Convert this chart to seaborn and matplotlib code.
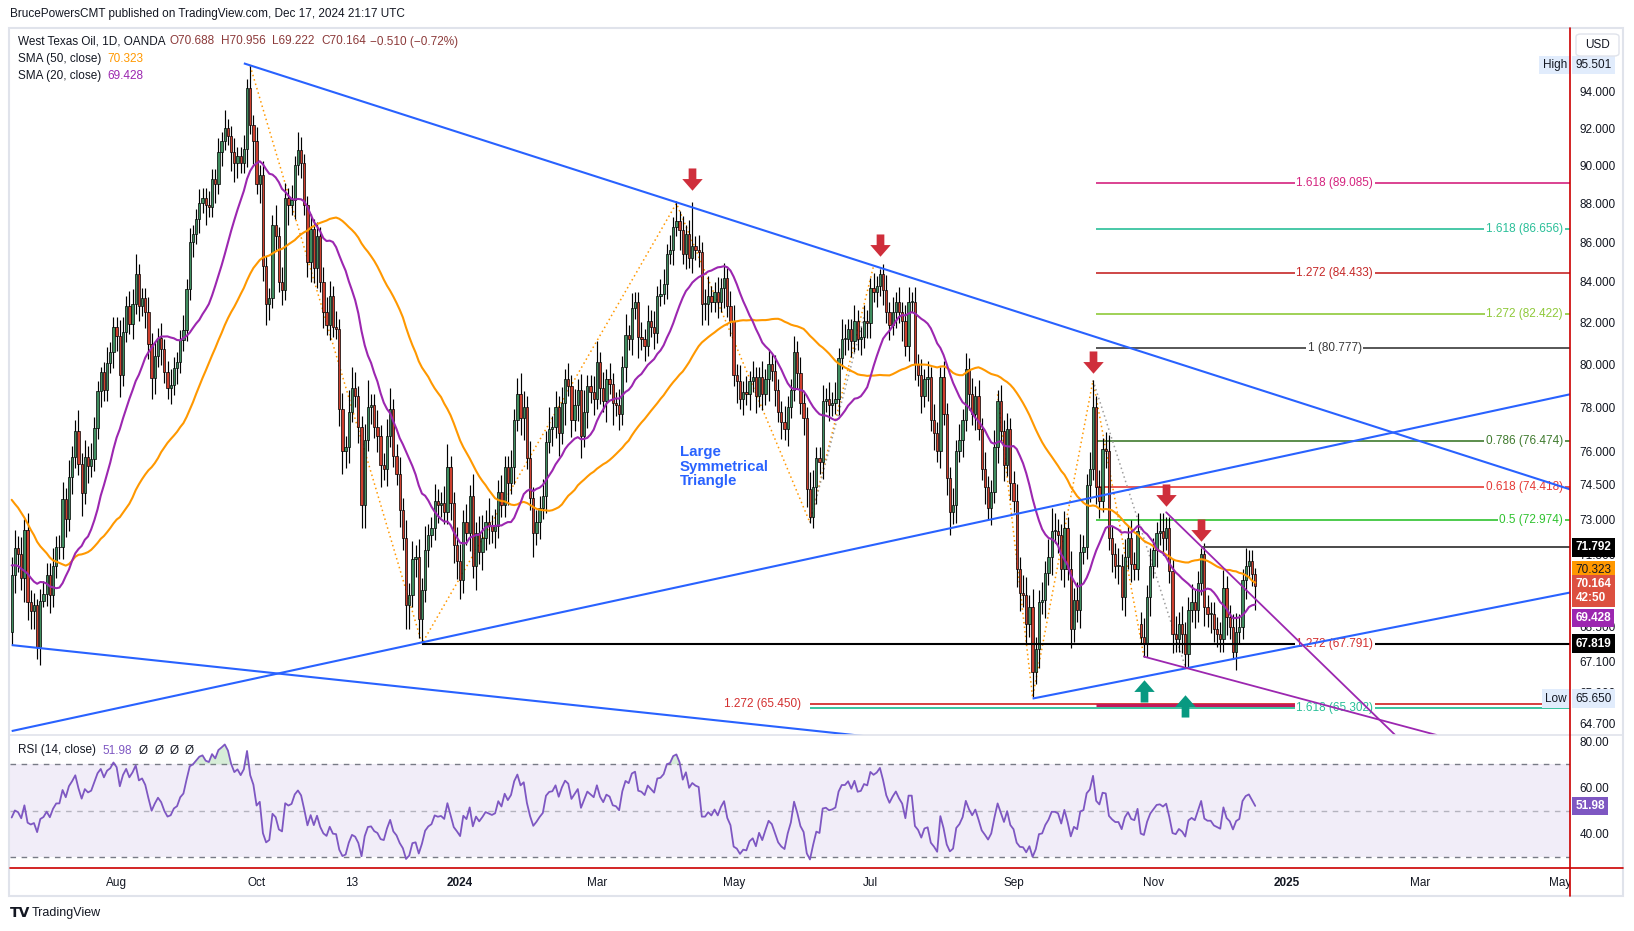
import numpy as np
import pandas as pd
import matplotlib
matplotlib.use("Agg")
import matplotlib.pyplot as plt
import seaborn as sns
from matplotlib.path import Path
from matplotlib.lines import Line2D
from matplotlib.patches import Rectangle, FancyBboxPatch
from matplotlib.transforms import blended_transform_factory, offset_copy
from matplotlib.ticker import NullLocator

sns.set_theme(style="white")
plt.rcParams["font.family"] = ["Liberation Sans", "DejaVu Sans"]

# ------------------------------------------------------------------ data
# closes before the first visible bar (only used to warm up SMA / RSI)
hist_closes = [80.70, 79.74, 81.53, 83.26, 82.16, 82.52, 80.83, 81.86, 79.16, 77.37, 77.87, 78.76,
               77.07, 74.30, 74.76, 76.78,
               75.66, 71.66, 68.60, 68.56, 71.34, 73.16, 73.71, 72.56, 70.87, 70.04, 71.11, 70.86,
               72.83, 71.86, 71.69, 71.99, 72.91, 74.34, 71.83, 72.67, 72.50, 69.46, 68.09,
               70.10, 71.74, 72.15, 71.74, 72.53, 71.29, 70.17, 67.12, 69.42, 68.27]

# daily closes of the visible bars, month by month
closes_2023_06 = [70.62, 71.78, 71.50, 70.50, 72.53, 69.51, 69.16, 69.37, 67.70, 69.56, 69.86, 70.64]
closes_2023_07 = [69.79, 71.00, 71.79, 71.80, 73.86, 72.99, 74.83, 75.75, 76.89, 75.42, 74.15, 75.75,
                  75.35, 75.63, 77.07, 78.74, 79.63, 78.78, 80.09, 80.58, 81.80]
closes_2023_08 = [81.37, 79.49, 81.55, 82.82, 81.94, 82.92, 84.40, 82.82, 83.19, 82.51, 80.99, 79.38,
                  80.39, 81.25, 80.72, 79.64, 78.89, 79.05, 79.83, 80.10, 81.16, 81.63, 83.63]
closes_2023_09 = [86.0, 86.4, 87.2, 88.0, 88.3, 87.9, 87.8, 89.3, 89.0, 90.7, 91.3, 92.0, 91.6, 90.7,
                  90.1, 90.5, 90.1, 90.9, 94.2, 92.2, 91.3]
closes_2023_10 = [89.0, 89.5, 84.8, 82.9, 83.2, 86.9, 86.3, 84.0, 83.6, 88.3, 87.9, 88.2, 90.0, 90.8,
                  90.1, 87.9, 85.0, 86.7, 84.7, 86.3, 84.0, 82.5]
closes_2023_11 = [81.9, 83.3, 81.8, 81.7, 77.9, 76.0, 76.2, 77.8, 78.9, 78.5, 77.1, 73.6, 76.5, 78.0,
                  78.1, 77.1, 76.7, 75.4, 75.2, 76.7, 77.9, 75.8]
closes_2023_12 = [75.0, 73.4, 72.2, 69.4, 69.8, 71.3, 71.4, 68.8, 70.0, 71.7, 72.3, 72.6, 73.8, 73.6,
                  73.7, 73.3, 75.3, 73.7, 71.9, 71.2]
closes_2024_01 = [70.4, 72.9, 72.4, 74.0, 71.0, 72.4, 71.6, 72.2, 72.9, 72.7, 72.5, 72.7, 74.2, 73.6,
                  75.3, 74.6, 75.3, 77.4, 78.6, 77.5, 78.0, 75.7]
closes_2024_02 = [73.9, 72.4, 72.9, 73.5, 74.0, 76.4, 77.0, 77.1, 78.0, 76.8, 78.2, 79.3, 79.0, 77.4,
                  78.1, 78.8, 76.7, 77.8, 79.0, 78.7, 78.4]
closes_2024_03 = [80.1, 78.9, 78.3, 79.3, 79.1, 78.2, 78.1, 77.7, 79.9, 81.4, 81.2, 82.7, 83.0, 81.3,
                  81.2, 80.9, 82.1, 81.8, 81.5, 83.3, 83.4]
closes_2024_04 = [83.9, 85.4, 85.6, 86.8, 87.1, 86.6, 85.4, 86.4, 85.2, 85.8, 85.6, 85.5, 82.9, 82.9,
                  83.3, 83.0, 83.5, 83.0, 83.7, 84.2, 82.8, 82.1]
closes_2024_05 = [79.5, 79.2, 78.4, 78.7, 78.6, 79.2, 79.4, 78.5, 79.4, 78.6, 79.3, 80.0, 79.7, 78.8,
                  77.8, 77.3, 77.0, 78.0, 78.8, 80.6, 79.6, 78.2, 77.5]
closes_2024_06 = [74.3, 73.1, 74.4, 75.7, 75.5, 78.3, 78.4, 78.1, 78.2, 78.4, 80.3, 81.2, 81.2, 81.7,
                  81.1, 82.1, 81.2, 81.3, 82.1, 82.0]
closes_2024_07 = [83.7, 83.5, 83.8, 84.4, 83.6, 82.5, 81.9, 82.5, 83.0, 82.5, 82.1, 80.9, 83.0, 83.0,
                  80.0, 79.5, 78.5, 79.3, 79.4, 77.4, 76.8, 76.0, 79.4]
closes_2024_08 = [77.7, 74.8, 73.3, 73.6, 76.0, 76.5, 77.4, 79.8, 78.6, 77.7, 78.5, 77.0, 75.2, 74.4,
                  73.5, 74.2, 76.2, 78.3, 76.9, 75.4, 77.0, 74.6]
closes_2024_09 = [73.8, 70.9, 69.9, 69.8, 68.6, 69.3, 66.7, 67.6, 69.5, 69.6, 70.7, 71.4, 72.5, 72.5,
                  72.3, 70.9, 72.6, 70.9, 68.4, 69.6, 69.2]
closes_2024_10 = [71.6, 71.8, 74.5, 75.2, 78.0, 74.4, 73.8, 76.1, 76.0, 72.2, 71.5, 71.0, 71.0, 69.7,
                  71.4, 72.2, 71.1, 70.9, 72.5, 68.1, 67.8, 69.7, 71.0]
closes_2024_11 = [71.7, 72.4, 72.5, 72.2, 72.6, 70.8, 68.2, 68.0, 68.6, 68.2, 67.4, 69.2, 69.5, 69.2,
                  70.3, 71.5, 69.3, 69.0, 69.0, 68.4, 68.2]
closes_2024_12 = [68.0, 70.1, 68.9, 68.5, 67.5, 68.3, 68.5, 70.4, 71.0, 71.2, 70.688, 70.164]

# upper / lower wick lengths per bar, one digit per bar, in quarter dollars
wick_up = {
    "2023_06": "332323221222", "2023_07": "232232322423232212322",
    "2023_08": "23323342223232322322232", "2023_09": "322322322324223223252",
    "2023_10": "3232224233232432232323", "2023_11": "3323232443223522322342",
    "2023_12": "23232323242232234223", "2024_01": "3232423424232322323432",
    "2024_02": "322232423232323234223", "2024_03": "423232232423223232323",
    "2024_04": "3232423239232342232323", "2024_05": "32323232232323223223232",
    "2024_06": "23322323232432232232", "2024_07": "23212323232332323232322",
    "2024_08": "3223232323232322323232", "2024_09": "232332322323432232323",
    "2024_10": "32235232332232323232323", "2024_11": "223322232322322122222",
    "2024_12": "232223223221",
}
wick_dn = {
    "2023_06": "233243332312", "2023_07": "322223232242322232223",
    "2023_08": "34222323233432322323222", "2023_09": "232324224232244322425",
    "2023_10": "2434323232424232343423", "2023_11": "2322343322344232342322",
    "2023_12": "23244233423223222333", "2024_01": "3223242323232224232342",
    "2024_02": "242323232424232342323", "2024_03": "232424232323242322322",
    "2024_04": "2323242323234342232423", "2024_05": "24232323232423232322323",
    "2024_06": "31232323223232322323", "2024_07": "32323232324232323242323",
    "2024_08": "2342323232322323232323", "2024_09": "233232423232323232322",
    "2024_10": "32232332323232323221223", "2024_11": "232322322322232232322",
    "2024_12": "223213223224",
}
month_closes = {
    "2023_06": closes_2023_06, "2023_07": closes_2023_07, "2023_08": closes_2023_08,
    "2023_09": closes_2023_09, "2023_10": closes_2023_10, "2023_11": closes_2023_11,
    "2023_12": closes_2023_12, "2024_01": closes_2024_01, "2024_02": closes_2024_02,
    "2024_03": closes_2024_03, "2024_04": closes_2024_04, "2024_05": closes_2024_05,
    "2024_06": closes_2024_06, "2024_07": closes_2024_07, "2024_08": closes_2024_08,
    "2024_09": closes_2024_09, "2024_10": closes_2024_10, "2024_11": closes_2024_11,
    "2024_12": closes_2024_12,
}
gap_open_dates = ["2024-10-28"]
gap_open_values = [68.6]

# drawing tools (date, price)
tri_upper = [("2023-09-26", 95.6), ("2025-05-07", 74.3)]
tri_lower = [("2023-06-15", 64.4), ("2025-05-07", 78.6)]
old_lower = [("2023-06-15", 67.76), ("2024-07-31", 63.9)]
small_lower = [("2024-09-10", 65.65), ("2025-05-07", 69.9)]
purple_upper = [("2024-11-07", 73.3), ("2025-02-19", 64.25)]
purple_lower = [("2024-10-29", 67.3), ("2025-03-10", 64.25)]
zigzag_a = [("2023-09-28", 95.45), ("2023-12-13", 67.82), ("2024-04-05", 88.0),
            ("2024-06-04", 72.85), ("2024-07-02", 84.8)]
zigzag_b = [("2024-08-26", 78.6), ("2024-09-10", 65.7), ("2024-10-07", 79.25), ("2024-10-29", 67.3)]
gray_a = [("2024-06-04", 72.85), ("2024-06-27", 82.3)]
gray_b = [("2024-10-07", 79.25), ("2024-11-15", 66.9)]

fib_a_vals = [89.085, 84.433, 80.777]
fib_a_text = ["1.618 (89.085)", "1.272 (84.433)", "1 (80.777)"]
fib_a_cols = ["#d4237f", "#c62828", "#3a3a3a"]
fib_b_vals = [86.656, 82.422, 76.474, 74.418, 72.974]
fib_b_text = ["1.618 (86.656)", "1.272 (82.422)", "0.786 (76.474)", "0.618 (74.418)", "0.5 (72.974)"]
fib_b_cols = ["#29bf98", "#8fc93a", "#3f7a2e", "#e53935", "#2fc22f"]
fib_start = "2024-10-08"

down_arrows = [("2024-04-12", 89.24), ("2024-07-04", 85.8), ("2024-10-07", 80.06),
               ("2024-11-07", 74.0), ("2024-11-22", 72.5)]
up_arrows = [("2024-10-29", 66.0), ("2024-11-15", 65.4)]

price_ticks = [94, 92, 90, 88, 86, 84, 82, 80, 78, 76, 74.5, 73, 71.5, 68.5, 67.1, 65.9, 64.7]
x_labels = [("2023-08-01", "Aug"), ("2023-10-02", "Oct"), ("2023-11-13", "13"), ("2024-01-02", "2024"),
            ("2024-03-01", "Mar"), ("2024-05-01", "May"), ("2024-07-01", "Jul"), ("2024-09-02", "Sep"),
            ("2024-11-01", "Nov"), ("2025-01-02", "2025"), ("2025-03-03", "Mar"), ("2025-05-02", "May")]

# ------------------------------------------------------------------ prep
keys = list(month_closes.keys())
for k in keys:
    assert len(month_closes[k]) == len(wick_up[k]) == len(wick_dn[k]), (k, len(month_closes[k]), len(wick_up[k]), len(wick_dn[k]))
closes = np.array([v for k in keys for v in month_closes[k]], dtype=float)
up_w = np.array([int(ch) for k in keys for ch in wick_up[k]], dtype=float)
dn_w = np.array([int(ch) for k in keys for ch in wick_dn[k]], dtype=float)
WICK_UNIT = 0.25

closed = pd.to_datetime(["2023-12-25", "2024-01-01", "2024-12-25", "2025-01-01"])
bar_dates = pd.bdate_range("2023-06-15", "2024-12-17")
bar_dates = bar_dates[~bar_dates.isin(closed)]
fut_dates = pd.bdate_range("2024-12-18", "2025-06-30")
fut_dates = fut_dates[~fut_dates.isin(closed)]
assert len(bar_dates) == len(closes), (len(bar_dates), len(closes))
all_dates = bar_dates.append(fut_dates)
pos = {d.strftime("%Y-%m-%d"): i for i, d in enumerate(all_dates)}

n = len(closes)
xb = np.arange(n)
opens = np.r_[hist_closes[-1], closes[:-1]]
for d, v in zip(gap_open_dates, gap_open_values):
    opens[pos[d]] = v
body_lo = np.minimum(opens, closes)
body_hi = np.maximum(opens, closes)
highs = body_hi + up_w * WICK_UNIT
lows = body_lo - dn_w * WICK_UNIT
is_up = closes >= opens

full = pd.Series(hist_closes + list(closes))
sma50 = full.rolling(50).mean().to_numpy()[len(hist_closes):]
sma20 = full.rolling(20).mean().to_numpy()[len(hist_closes):]
delta = full.diff()
gain = delta.clip(lower=0)
loss = (-delta).clip(lower=0)
ag = gain.ewm(alpha=1 / 14, adjust=False).mean()
al = loss.ewm(alpha=1 / 14, adjust=False).mean()
rsi = (100 - 100 / (1 + ag / al)).to_numpy()[len(hist_closes):]

# ------------------------------------------------------------------ figure
W, H = 1634, 931
fig = plt.figure(figsize=(W / 100, H / 100), dpi=100)
fig.patch.set_facecolor("white")
L_PX, R_PX = 10, 1570.4
ax = fig.add_axes([L_PX / W, 1 - 735 / H, (R_PX - L_PX) / W, (735 - 28) / H])
ax_r = fig.add_axes([L_PX / W, 1 - 868 / H, (R_PX - L_PX) / W, (868 - 735) / H])
ax_t = fig.add_axes([L_PX / W, 1 - 896 / H, (R_PX - L_PX) / W, (896 - 868) / H])
XLIM = (-0.53, 490.1)
TXT = "#131722"
for a in (ax, ax_r, ax_t):
    a.set_facecolor("white")
    a.set_xlim(*XLIM)
    for sp in a.spines.values():
        sp.set_visible(False)

ax.set_yscale("log")

UP_COL, DN_COL = "#3f8d5f", "#cd3f2e"
ax.vlines(xb, lows, highs, colors="#000000", linewidth=0.85, zorder=3)
ax.bar(xb, np.maximum(body_hi - body_lo, 0.04), bottom=body_lo, width=0.72,
       color=np.where(is_up, UP_COL, DN_COL), edgecolor="#000000", linewidth=0.5, zorder=3.2)

sns.lineplot(x=xb, y=sma50, ax=ax, color="#ff9800", linewidth=1.5, zorder=4, legend=False)
sns.lineplot(x=xb, y=sma20, ax=ax, color="#9c27b0", linewidth=1.5, zorder=4.1, legend=False)


def seg(a, pts, **kw):
    a.plot([pos[d] for d, _ in pts], [v for _, v in pts], **kw)


BLUE = "#2962ff"
for pts in (tri_upper, tri_lower, old_lower, small_lower):
    seg(ax, pts, color=BLUE, lw=1.5, zorder=6, solid_capstyle="butt")
for pts in (purple_upper, purple_lower):
    seg(ax, pts, color="#9c27b0", lw=1.3, zorder=6)
for pts in (zigzag_a, zigzag_b):
    seg(ax, pts, color="#ff9800", lw=1.1, ls=(0, (1, 2)), zorder=2.8)
for pts in (gray_a, gray_b):
    seg(ax, pts, color="#9e9e9e", lw=1.1, ls=(0, (1, 2)), zorder=2.8)

x_end = XLIM[1] + 1
fs = pos[fib_start]
LAB_A = pos["2025-01-23"]
LAB_B = pos["2025-05-02"] + 0.8
bb = dict(fc="white", ec="none", pad=1.2)
for v, t, c in zip(fib_a_vals, fib_a_text, fib_a_cols):
    ax.hlines(v, fs, x_end, color=c, lw=1.2, zorder=2.5)
    ax.text(LAB_A, v, t, color=c, ha="center", va="center", fontsize=8.5, bbox=bb, zorder=5)
for v, t, c in zip(fib_b_vals, fib_b_text, fib_b_cols):
    ax.hlines(v, fs, x_end, color=c, lw=1.2, zorder=2.5)
    ax.text(LAB_B, v, t, color=c, ha="right", va="center", fontsize=8.5, bbox=bb, zorder=5)

ax.hlines(65.450, pos["2024-06-04"], x_end, color="#d32f2f", lw=1.3, zorder=2.5)
ax.hlines(65.302, pos["2024-06-04"], x_end, color="#29bf98", lw=1.3, zorder=2.5)
ax.hlines(65.40, fs, pos["2025-01-30"], color="#c2185b", lw=2.2, zorder=2.6)
ax.text(pos["2024-06-04"] - 2.8, 65.450, "1.272 (65.450)", color="#d32f2f", ha="right", va="center",
        fontsize=8.5, zorder=5)
ax.text(LAB_A, 65.302, "1.618 (65.302)", color="#29bf98", ha="center", va="center", fontsize=8.5,
        bbox=bb, zorder=5)
ax.hlines(67.791, fs, x_end, color="#d32f2f", lw=1.3, zorder=4.4)
ax.text(LAB_A, 67.791, "1.272 (67.791)", color="#d32f2f", ha="center", va="center", fontsize=8.5,
        bbox=bb, zorder=5)
ax.hlines(67.819, pos["2023-12-13"], x_end, color="#000000", lw=1.5, zorder=4.5)
ax.hlines(71.792, pos["2024-11-22"], x_end, color="#4a4a4a", lw=1.4, zorder=4.5)

ax.text(pos["2024-04-08"], 76.26, "Large\nSymmetrical\nTriangle", color=BLUE, fontsize=10.8,
        fontweight="bold", ha="left", va="top", linespacing=1.05, zorder=7)

arrow_dn = Path([(-0.32, 1.0), (0.32, 1.0), (0.32, 0.12), (0.85, 0.12), (0.0, -0.85),
                 (-0.85, 0.12), (-0.32, 0.12), (-0.32, 1.0)],
                [Path.MOVETO] + [Path.LINETO] * 6 + [Path.CLOSEPOLY])
arrow_up = Path([(x, -y) for x, y in arrow_dn.vertices], arrow_dn.codes)
ax.scatter([pos[d] for d, _ in down_arrows], [v for _, v in down_arrows], marker=arrow_dn, s=300,
           c="#cf2e3b", linewidths=0, zorder=8)
ax.scatter([pos[d] for d, _ in up_arrows], [v for _, v in up_arrows], marker=arrow_up, s=300,
           c="#089981", linewidths=0, zorder=8)

ax.set_ylim(64.25, 97.62)
ax.set_xlim(*XLIM)
ax.set_yticks(price_ticks, labels=[f"{v:.3f}" for v in price_ticks])
ax.yaxis.set_minor_locator(NullLocator())
ax.yaxis.tick_right()
ax.tick_params(axis="y", length=0, pad=6.5, labelsize=8.5, labelcolor=TXT)
ax.set_xticks([])
ax.set_xlabel("")
ax.set_ylabel("")

# price-axis value boxes
tr_m = blended_transform_factory(ax.transAxes, ax.transData)
BX = 1.0033


def box(a, tr, val, text, fc, tc, dy=0, bold=True, ha="left", x=BX, va="center"):
    t = offset_copy(tr, fig=fig, x=0, y=dy, units="dots")
    a.text(x, val, text, transform=t, ha=ha, va=va, fontsize=8.5, color=tc,
           fontweight="bold" if bold else "normal", linespacing=1.15,
           bbox=dict(boxstyle="square,pad=0.28", fc=fc, ec="none"), zorder=10, clip_on=False)


LB = "#e1ecfc"
box(ax, tr_m, 95.501, "95.501", LB, TXT, bold=False)
box(ax, tr_m, 95.501, "High", LB, TXT, bold=False, ha="right", x=0.9978)
box(ax, tr_m, 65.650, "65.650", LB, TXT, bold=False)
box(ax, tr_m, 65.650, "Low", LB, TXT, bold=False, ha="right", x=0.9978)
box(ax, tr_m, 71.792, "71.792", "#000000", "white")
box(ax, tr_m, 70.323, "70.323", "#ff9800", TXT, dy=12, bold=False)
box(ax, tr_m, 70.164, "70.164\n42:50", "#dc5040", "white", dy=8, va="top")
box(ax, tr_m, 69.428, "69.428", "#9c27b0", "white", dy=-14)
box(ax, tr_m, 67.819, "67.819", "#000000", "white")

# ------------------------------------------------------------------ RSI pane
ax_r.axhspan(30, 70, color="#7e57c2", alpha=0.1, lw=0, zorder=0)
for lvl, al_ in ((70, 1.0), (50, 0.5), (30, 1.0)):
    ax_r.axhline(lvl, color="#787b86", lw=1.0, ls=(0, (4, 4)), alpha=al_, zorder=1)
ax_r.fill_between(xb, 70, rsi, where=rsi > 70, interpolate=True, color="#4caf50", alpha=0.22, lw=0)
ax_r.fill_between(xb, 30, rsi, where=rsi < 30, interpolate=True, color="#f23645", alpha=0.22, lw=0)
sns.lineplot(x=xb, y=rsi, ax=ax_r, color="#7e57c2", linewidth=1.3, zorder=3, legend=False)
ax_r.set_ylim(25.1, 82.7)
ax_r.set_xlim(*XLIM)
ax_r.set_yticks([80, 60, 40], labels=["80.00", "60.00", "40.00"])
ax_r.yaxis.tick_right()
ax_r.tick_params(axis="y", length=0, pad=6.5, labelsize=8.5, labelcolor=TXT)
ax_r.set_xticks([])
ax_r.set_xlabel("")
ax_r.set_ylabel("")
tr_r = blended_transform_factory(ax_r.transAxes, ax_r.transData)
box(ax_r, tr_r, 51.98, "51.98", "#7e57c2", "white")

# ------------------------------------------------------------------ time axis
ax_t.set_ylim(0, 1)
ax_t.set_xticks([])
ax_t.set_yticks([])
for d, lab in x_labels:
    ax_t.text(pos[d], 0.45, lab, ha="center", va="center", fontsize=8.5, color=TXT,
              fontweight="bold" if lab.isdigit() and len(lab) == 4 else "normal", clip_on=True)

# ------------------------------------------------------------------ frame & texts


def T(xp, yp, s, **kw):
    kw.setdefault("fontsize", 8.5)
    kw.setdefault("color", TXT)
    kw.setdefault("va", "center")
    kw.setdefault("ha", "left")
    return fig.text(xp / W, 1 - yp / H, s, **kw)


def fline(x0, y0, x1, y1, **kw):
    fig.add_artist(Line2D([x0 / W, x1 / W], [1 - y0 / H, 1 - y1 / H], **kw))


fig.add_artist(Rectangle((9 / W, 1 - 896 / H), (1623 - 9) / W, (896 - 28) / H, fill=False,
                         ec="#e0e3eb", lw=1.5, transform=fig.transFigure))
fline(10, 735, 1623, 735, color="#e0e3eb", lw=1.2)
fline(10, 868, 1623, 868, color="#cc0000", lw=1.2)
fline(R_PX, 28, R_PX, 896, color="#cc0000", lw=1.2)
fig.add_artist(FancyBboxPatch((1576 / W, 1 - 56 / H), 43 / W, 22 / H,
                              boxstyle="round,pad=0,rounding_size=0.003", fc="white",
                              ec="#e0e3eb", lw=1.0, transform=fig.transFigure, zorder=5))
T(1597.5, 44.5, "USD", ha="center", zorder=6)

T(10, 14, "BrucePowersCMT published on TradingView.com, Dec 17, 2024 21:17 UTC")
VAL = "#8c3a3a"
T(18, 41.5, "West Texas Oil, 1D, OANDA")
T(170, 41.5, "O70.688", color=VAL)
T(221, 41.5, "H70.956", color=VAL)
T(272, 41.5, "L69.222", color=VAL)
T(321, 41.5, "C70.164", color=VAL)
T(370, 41.5, "\u22120.510 (\u22120.72%)", color=VAL)
T(18, 58.7, "SMA (50, close)")
T(107, 58.7, "70.323", color="#ff9800")
T(18, 75.7, "SMA (20, close)")
T(107, 75.7, "69.428", color="#9c27b0")
T(18, 750.5, "RSI (14, close)")
T(102, 750.5, "51.98", color="#7e57c2")
for xp in (139, 155, 170, 185):
    T(xp, 750.5, "\u00d8", fontsize=8.5)
T(10, 913, "TV", fontsize=10, fontweight="heavy", family=["DejaVu Sans"])
T(32, 913, "TradingView", fontsize=9)

fig.savefig("out.png", dpi=100, facecolor="white")
